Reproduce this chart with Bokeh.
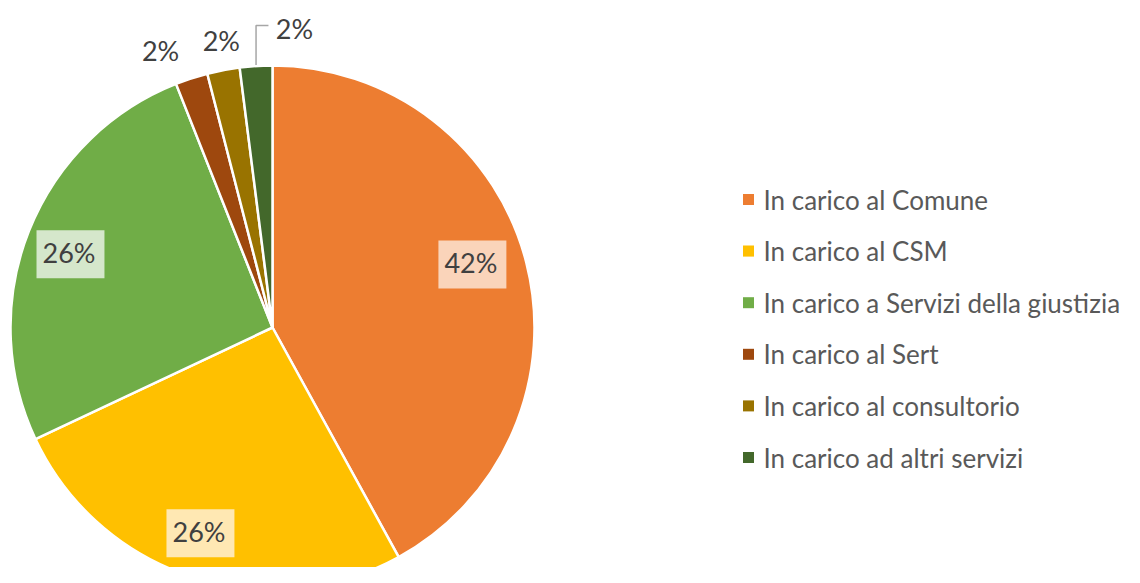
import math
from bokeh.plotting import figure
from bokeh.models import Range1d
from bokeh.core.properties import value
from bokeh.embed import file_html
from bokeh.resources import INLINE

# ---- data ----
categories = ["In carico al Comune", "In carico al CSM", "In carico a Servizi della giustizia",
              "In carico al Sert", "In carico al consultorio", "In carico ad altri servizi"]
values = [42, 26, 26, 2, 2, 2]
colors = ["#ED7D31", "#FFC000", "#70AD47", "#9E480E", "#997300", "#43682B"]
box_colors = ["#FAD4BA", "#FFE8B3", "#D5E7CB", None, None, None]

# ---- layout / style ----
W, H = 1124, 567
FONT = "Lato"
CX, CY, R = 272, 240, 262
label_r = [0.80, 0.832, 0.82, 1.14, 1.113, 1.144]
label_shift = [-3.1, 1.3, -1.7, -4.0, 0.7, 7.8]  # degrees

p = figure(width=W, height=H, output_backend="svg", toolbar_location=None,
           x_range=Range1d(0, W), y_range=Range1d(0, H), min_border=0)
p.axis.visible = False
p.grid.visible = False
p.outline_line_color = None
p.background_fill_color = "white"

total = sum(values)
cum = 0.0
starts, ends, mids = [], [], []
for v in values:
    a0 = cum / total
    cum += v
    a1 = cum / total
    starts.append(math.pi / 2 - a0 * 2 * math.pi)
    ends.append(math.pi / 2 - a1 * 2 * math.pi)
    mids.append((a0 + a1) / 2 * 360)

p.wedge(x=CX, y=CY, radius=R, start_angle=starts, end_angle=ends, direction="clock",
        fill_color=colors, line_color="white", line_width=2.5)

# labels
for i, v in enumerate(values):
    ang = math.radians(mids[i] + label_shift[i])
    lx = CX + label_r[i] * R * math.sin(ang)
    ly = CY + label_r[i] * R * math.cos(ang)
    txt = f"{v}%"
    if box_colors[i]:
        p.text(x=[lx], y=[ly], text=[txt], text_font=value(FONT), text_font_size="27px",
               text_color="#404040", text_align="center", text_baseline="middle",
               background_fill_color=box_colors[i], padding=[6, 9, 6, 9])
    else:
        p.text(x=[lx], y=[ly], text=[txt], text_font=value(FONT), text_font_size="27px",
               text_color="#404040", text_align="center", text_baseline="middle")

# leader line for last slice
i = len(values) - 1
ang = math.radians(mids[i])
sx = CX + R * math.sin(ang)
sy = CY + R * math.cos(ang)
ang2 = math.radians(mids[i] + label_shift[i])
ly = CY + label_r[i] * R * math.cos(ang2) + 3
lx = CX + label_r[i] * R * math.sin(ang2) - 26
p.line(x=[sx, sx, lx], y=[sy + 1, ly, ly], line_color="#A6A6A6", line_width=1.5)

# legend
LX, LY0, LDY = 748, 368, 51.6
ly_list = [LY0 - k * LDY for k in range(len(categories))]
p.scatter(x=[LX] * len(categories), y=ly_list, marker="square", size=11,
          fill_color=colors, line_color=None)
p.text(x=[LX + 15] * len(categories), y=ly_list, text=categories, text_font=value(FONT),
       text_font_size="26px", text_color="#595959", text_align="left", text_baseline="middle")

open("out.html", "w").write(file_html(p, INLINE))
